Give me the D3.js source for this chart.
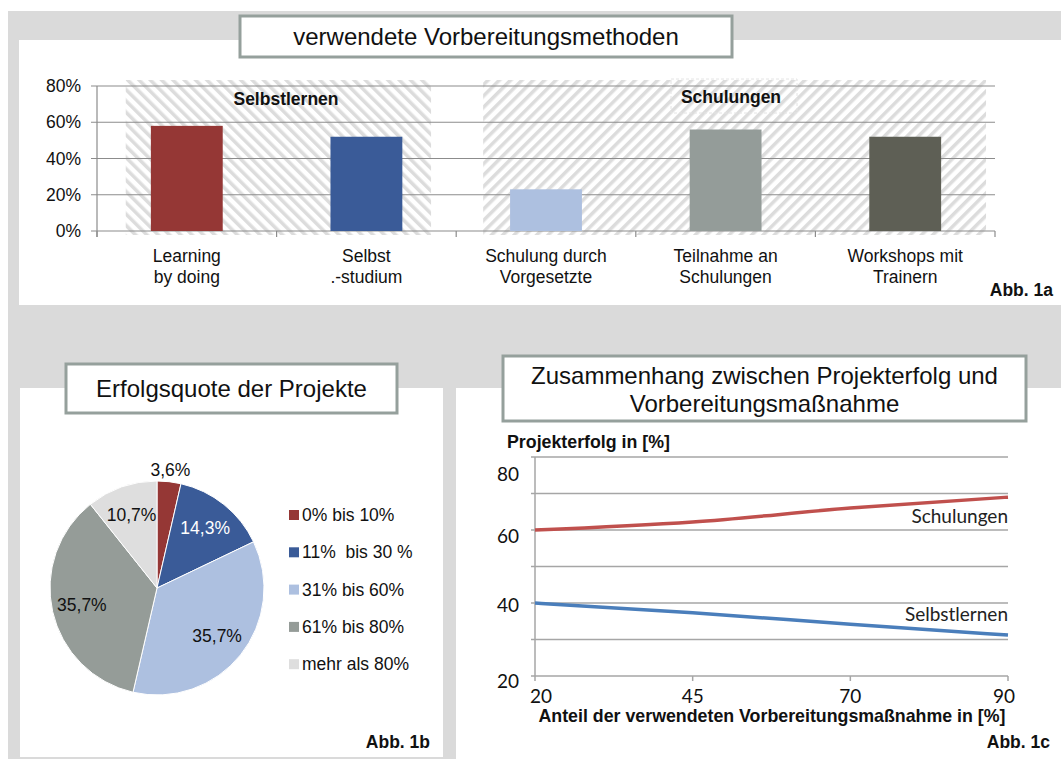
<!DOCTYPE html>
<html>
<head>
<meta charset="utf-8">
<script src="https://cdn.jsdelivr.net/npm/d3@7"></script>
<style>
	body { margin: 0; background: #fff; }
	svg { display: block; font-family: "Liberation Sans", Arial, sans-serif; }
	text { white-space: pre; }
</style>
</head>
<body>
<div id="chart"></div>
<script>
// --- data: Abb. 1a
var methods = [["Learning", "by doing"], ["Selbst", ".-studium"], ["Schulung durch", "Vorgesetzte"], ["Teilnahme an", "Schulungen"], ["Workshops mit", "Trainern"]];
var methodShares = [0.58, 0.52, 0.23, 0.56, 0.52];
var methodColors = ["#953735", "#3a5b98", "#adc0e0", "#949c99", "#5e5f55"];
var shareTicks = [0, 0.2, 0.4, 0.6, 0.8];

// --- data: Abb. 1b
var quoteLabels = ["0% bis 10%", "11%  bis 30 %", "31% bis 60%", "61% bis 80%", "mehr als 80%"];
var quoteValues = [3.6, 14.3, 35.7, 35.7, 10.7];
var quoteColors = ["#953735", "#3a5b98", "#adc0e0", "#959c98", "#dedede"];

// --- data: Abb. 1c
var shareSteps = ["20", "45", "70", "90"];
var schulungenSeries = [60, 62.2, 66, 69];
var selbstSeries = [40, 37.3, 34.2, 31.2];
var successTicks = [20, 40, 60, 80];

var W = 1061, H = 759;
var gray = "#dadada";
var boxStroke = "#95a09c";
var fs = "17.5px";

var svg = d3.select("#chart").append("svg")
		.attr("width", W)
		.attr("height", H);

// hatch patterns
var defs = svg.append("defs");
function hatch(id, angle) {
	var p = defs.append("pattern")
		.attr("id", id)
		.attr("patternUnits", "userSpaceOnUse")
		.attr("width", 8)
		.attr("height", 8)
		.attr("patternTransform", "rotate(" + angle + ")");
	p.append("rect").attr("width", 8).attr("height", 8).attr("fill", "#fff");
	p.append("rect").attr("width", 3.5).attr("height", 8).attr("fill", "#dcdcdc");
}
hatch("hatchBack", -45);
hatch("hatchFwd", 45);

// backgrounds
svg.append("rect").attr("x", 8).attr("y", 11).attr("width", W - 8).attr("height", H - 11).attr("fill", gray);
svg.append("rect").attr("x", 19).attr("y", 40).attr("width", W - 19).attr("height", 265).attr("fill", "#fff");
svg.append("rect").attr("x", 20).attr("y", 388).attr("width", 423).attr("height", 369).attr("fill", "#fff");
svg.append("rect").attr("x", 456).attr("y", 388).attr("width", W - 456).attr("height", H - 388).attr("fill", "#fff");

function titleBox(x, y, w, h, lines, cy) {
	svg.append("rect")
		.attr("x", x).attr("y", y)
		.attr("width", w).attr("height", h)
		.attr("fill", "#fff")
		.attr("stroke", boxStroke)
		.attr("stroke-width", 3);
	lines.forEach(function(l, i) {
		svg.append("text")
			.attr("x", x + w / 2)
			.attr("y", cy + i * 28)
			.attr("text-anchor", "middle")
			.style("font-size", "24px")
			.attr("fill", "#111")
			.text(l);
	});
}

function abb(txt, x, y) {
	svg.append("text")
		.attr("x", x).attr("y", y)
		.attr("text-anchor", "end")
		.style("font-size", fs)
		.style("font-weight", "bold")
		.attr("fill", "#111")
		.text(txt);
}

// ================= Abb. 1a =================
var g1 = svg.append("g");
var x1 = d3.scaleBand()
	.domain(d3.range(methods.length))
	.range([97, 995])
	.paddingInner(0.6)
	.paddingOuter(0.3);
var step1 = x1.step();
var y1 = d3.scaleLinear().domain([0, 0.8]).range([231, 86]);

// hatched group backgrounds
var groups = [
	{ name: "Selbstlernen", from: 0.16, to: 1.86, fill: "url(#hatchBack)", lx: 286, ly: 105 },
	{ name: "Schulungen", from: 2.15, to: 4.95, fill: "url(#hatchFwd)", lx: 731, ly: 103 }
];
g1.selectAll("rect.grp")
	.data(groups)
	.enter()
	.append("rect")
	.attr("class", "grp")
	.attr("x", d => 97 + d.from * step1)
	.attr("y", y1(0.8) - 6)
	.attr("width", d => (d.to - d.from) * step1)
	.attr("height", y1(0) - y1(0.8) + 10)
	.attr("fill", d => d.fill);

// gridlines
g1.selectAll("line.grid")
	.data(shareTicks)
	.enter()
	.append("line")
	.attr("x1", 91)
	.attr("x2", 995)
	.attr("y1", d => y1(d))
	.attr("y2", d => y1(d))
	.attr("stroke", "#8c8c8c")
	.attr("stroke-width", 1.2);

g1.append("line")
	.attr("x1", 97).attr("x2", 97)
	.attr("y1", y1(0.8)).attr("y2", y1(0) + 6)
	.attr("stroke", "#8c8c8c").attr("stroke-width", 1.2);

g1.selectAll("line.xt")
	.data(d3.range(methods.length + 1))
	.enter()
	.append("line")
	.attr("x1", d => 97 + d * step1)
	.attr("x2", d => 97 + d * step1)
	.attr("y1", y1(0))
	.attr("y2", y1(0) + 6)
	.attr("stroke", "#8c8c8c")
	.attr("stroke-width", 1.2);

g1.selectAll("text.yl")
	.data(shareTicks)
	.enter()
	.append("text")
	.attr("x", 81)
	.attr("y", d => y1(d) + 6)
	.attr("text-anchor", "end")
	.style("font-size", fs)
	.attr("fill", "#111")
	.text(d => d3.format(".0%")(d));

// bars
g1.selectAll("rect.bar")
	.data(methodShares)
	.enter()
	.append("rect")
	.attr("class", "bar")
	.attr("x", (d, i) => x1(i))
	.attr("y", d => y1(d))
	.attr("width", x1.bandwidth())
	.attr("height", d => y1(0) - y1(d))
	.attr("fill", (d, i) => methodColors[i]);

// category labels
methods.forEach(function(m, i) {
	m.forEach(function(l, j) {
		g1.append("text")
			.attr("x", x1(i) + x1.bandwidth() / 2)
			.attr("y", 262 + j * 21)
			.attr("text-anchor", "middle")
			.style("font-size", fs)
			.attr("fill", "#111")
			.text(l);
	});
});

// Schulungen label box (faint dashed)
g1.append("rect")
	.attr("x", 671).attr("y", 79)
	.attr("width", 126).attr("height", 34)
	.attr("fill", "none")
	.attr("stroke", "#e4e4e4")
	.attr("stroke-dasharray", "3,2");

g1.selectAll("text.grp")
	.data(groups)
	.enter()
	.append("text")
	.attr("x", d => d.lx)
	.attr("y", d => d.ly)
	.attr("text-anchor", "middle")
	.style("font-size", fs)
	.style("font-weight", "bold")
	.attr("fill", "#111")
	.text(d => d.name);

titleBox(240, 16, 492, 41, ["verwendete Vorbereitungsmethoden"], 45);
abb("Abb. 1a", 1053, 296);

// ================= Abb. 1b =================
var cx = 157, cy = 588, R = 107;
var pie = d3.pie().sort(null)(quoteValues);
var arc = d3.arc().innerRadius(0).outerRadius(R);
var g2 = svg.append("g").attr("transform", "translate(" + cx + "," + cy + ")");

g2.selectAll("path")
	.data(pie)
	.enter()
	.append("path")
	.attr("d", arc)
	.attr("fill", (d, i) => quoteColors[i])
	.attr("stroke", "#fff")
	.attr("stroke-width", 1);

var labelArc = d3.arc().innerRadius(R * 0.72).outerRadius(R * 0.72);
var outerArc = d3.arc().innerRadius(R + 12).outerRadius(R + 12);
g2.selectAll("text")
	.data(pie)
	.enter()
	.append("text")
	.attr("transform", (d, i) => "translate(" + (i === 0 ? outerArc : labelArc).centroid(d) + ")")
	.attr("dy", "0.35em")
	.attr("text-anchor", "middle")
	.style("font-size", fs)
	.attr("fill", (d, i) => i === 1 ? "#fff" : "#111")
	.text(d => d3.format(".1f")(d.data).replace(".", ",") + "%");

var leg = svg.append("g");
leg.selectAll("rect")
	.data(quoteLabels)
	.enter()
	.append("rect")
	.attr("x", 289)
	.attr("y", (d, i) => 510 + i * 37.3)
	.attr("width", 10)
	.attr("height", 10)
	.attr("fill", (d, i) => quoteColors[i]);
leg.selectAll("text")
	.data(quoteLabels)
	.enter()
	.append("text")
	.attr("x", 302)
	.attr("y", (d, i) => 521 + i * 37.3)
	.style("font-size", fs)
	.attr("fill", "#111")
	.text(d => d);

titleBox(66, 364, 331, 49, ["Erfolgsquote der Projekte"], 397);
abb("Abb. 1b", 430, 748);

// ================= Abb. 1c =================
var g3 = svg.append("g");
var x3 = d3.scalePoint().domain(shareSteps).range([535, 1008]);
var y3 = d3.scaleLinear().domain([20, 80]).range([676, 457]);

g3.selectAll("line.grid")
	.data(d3.range(20, 81, 10))
	.enter()
	.append("line")
	.attr("x1", 531)
	.attr("x2", 1008)
	.attr("y1", d => y3(d))
	.attr("y2", d => y3(d))
	.attr("stroke", "#a6a6a6")
	.attr("stroke-width", 1.5);

g3.append("line")
	.attr("x1", 535).attr("x2", 535)
	.attr("y1", y3(80)).attr("y2", y3(20))
	.attr("stroke", "#a6a6a6").attr("stroke-width", 1.5);

g3.selectAll("line.xt")
	.data(shareSteps)
	.enter()
	.append("line")
	.attr("x1", d => x3(d))
	.attr("x2", d => x3(d))
	.attr("y1", y3(20))
	.attr("y2", y3(20) + 5)
	.attr("stroke", "#a6a6a6")
	.attr("stroke-width", 1.5);

// tick labels sit slightly below their gridlines in the original
var yShift = [12, 9, 13, 24];
g3.selectAll("text.yl")
	.data(successTicks)
	.enter()
	.append("text")
	.attr("x", 519)
	.attr("y", (d, i) => y3(d) + yShift[i])
	.attr("text-anchor", "end")
	.style("font-family", "Lato, sans-serif")
	.style("font-size", "19px")
	.attr("fill", "#111")
	.text(d => d);

var xShift = [6, 0, 0, -4];
g3.selectAll("text.xl")
	.data(shareSteps)
	.enter()
	.append("text")
	.attr("x", (d, i) => x3(d) + xShift[i])
	.attr("y", 703)
	.attr("text-anchor", "middle")
	.style("font-family", "Lato, sans-serif")
	.style("font-size", "19px")
	.attr("fill", "#111")
	.text(d => d);

var line3 = d3.line()
	.x((d, i) => x3(shareSteps[i]))
	.y(d => y3(d))
	.curve(d3.curveMonotoneX);

var series = [
	{ name: "Schulungen", values: schulungenSeries, color: "#c0504d", ly: 523 },
	{ name: "Selbstlernen", values: selbstSeries, color: "#4a7ebb", ly: 621 }
];
g3.selectAll("path")
	.data(series)
	.enter()
	.append("path")
	.attr("d", d => line3(d.values))
	.attr("fill", "none")
	.attr("stroke", d => d.color)
	.attr("stroke-width", 3.5);

g3.selectAll("text.sl")
	.data(series)
	.enter()
	.append("text")
	.attr("x", 1008)
	.attr("y", d => d.ly)
	.attr("text-anchor", "end")
	.style("font-family", "Lato, sans-serif")
	.style("font-size", "19px")
	.attr("fill", "#222")
	.text(d => d.name);

g3.append("text")
	.attr("x", 507).attr("y", 448)
	.style("font-size", "17.8px")
	.style("font-weight", "bold")
	.attr("fill", "#111")
	.text("Projekterfolg in [%]");

g3.append("text")
	.attr("x", 772).attr("y", 722)
	.attr("text-anchor", "middle")
	.style("font-size", "17.8px")
	.style("font-weight", "bold")
	.attr("fill", "#111")
	.text("Anteil der verwendeten Vorbereitungsmaßnahme in [%]");

titleBox(503, 356, 523, 65, ["Zusammenhang zwischen Projekterfolg und", "Vorbereitungsmaßnahme"], 384);
abb("Abb. 1c", 1050, 748);
</script>
</body>
</html>
